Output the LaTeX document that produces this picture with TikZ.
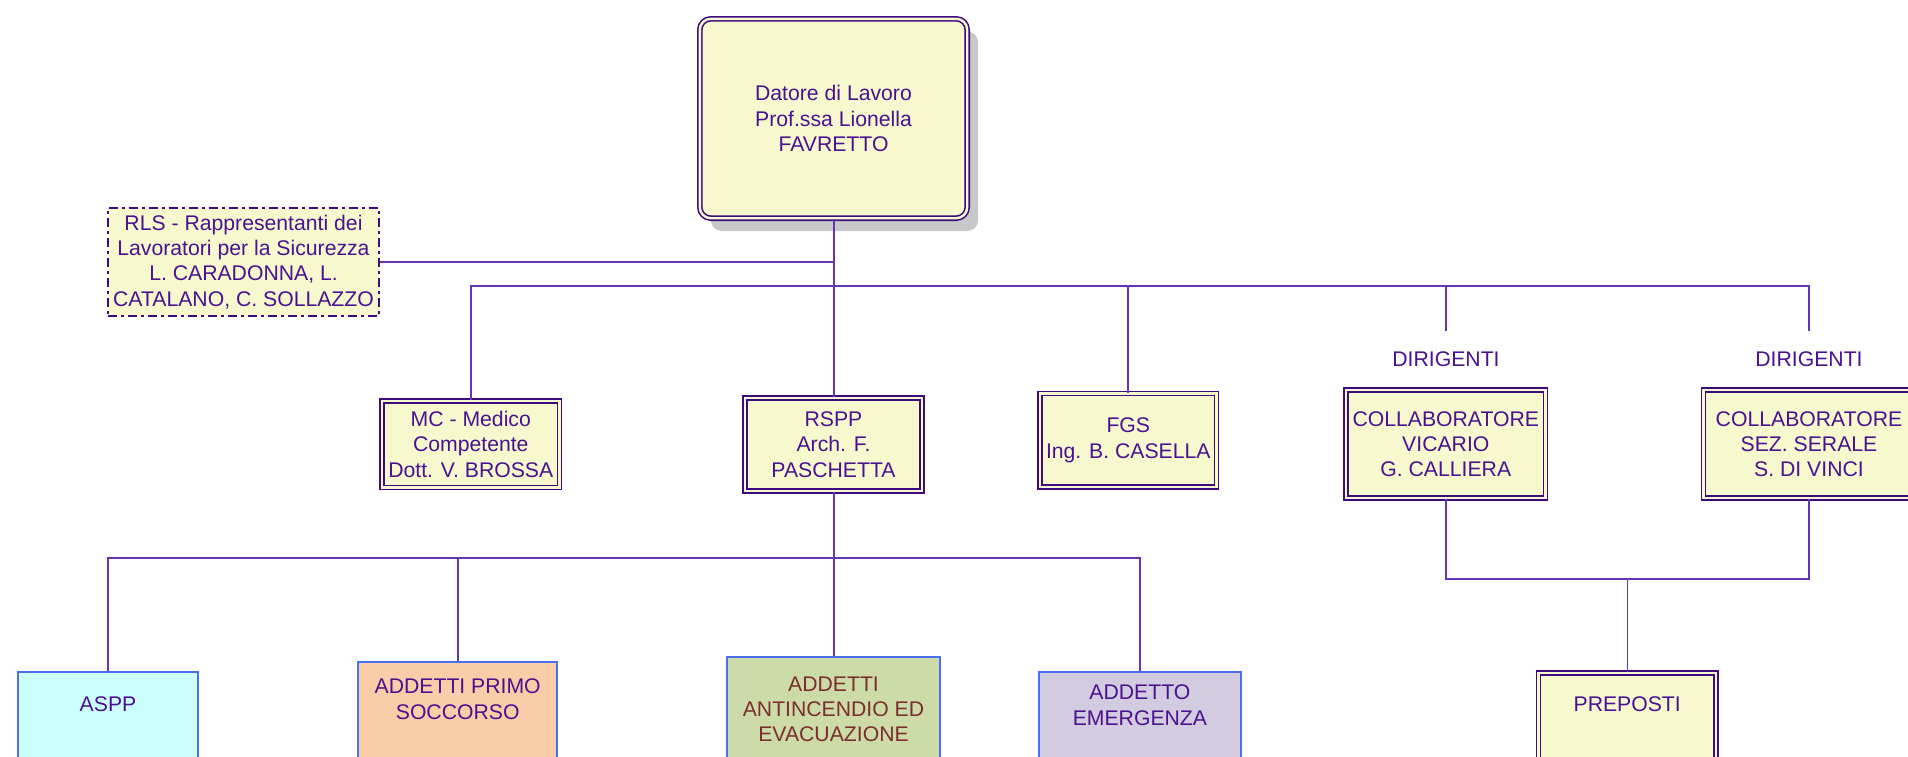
\documentclass[tikz,border=0pt]{standalone}
\usepackage{fontspec}
\setmainfont{Liberation Sans}
\usepackage{tikz}
\usetikzlibrary{shadows}
\definecolor{boxfill}{HTML}{F8F8CE}
\definecolor{boxline}{HTML}{3E0A80}
\definecolor{txt}{HTML}{4A1290}
\definecolor{wirec}{HTML}{6436B2}
\definecolor{blueline}{HTML}{4A6EF2}
\definecolor{asppfill}{HTML}{CCFFFF}
\definecolor{sokfill}{HTML}{F8CDA8}
\definecolor{antfill}{HTML}{CDDBA9}
\definecolor{antxt}{HTML}{7A2E2E}
\definecolor{emfill}{HTML}{D3CBE0}
\definecolor{shade}{HTML}{C8C8C8}

\begin{document}
\begin{tikzpicture}[x=0.5pt, y=-0.5pt,
    every node/.style={font=\fontsize{10.6}{12.65}\selectfont, text=txt, align=center},
    dbox/.style={draw=boxline, line width=0.8pt, double=boxfill, double distance=1.2pt, fill=boxfill, inner sep=0pt},
    cbox/.style={draw=blueline, line width=1pt, inner sep=0pt, anchor=base, text depth=60pt},
    conn/.style={draw=wirec, line width=1pt}]
      \fill[white, use as bounding box] (0,0) rectangle (1908,756);
      \clip (0,0) rectangle (1908,756);

      \node[dbox, rounded corners=5.5pt, minimum width=133.7pt, minimum height=99.7pt,
            drop shadow={shadow xshift=5.5pt, shadow yshift=-6.4pt, fill=shade, opacity=1}]
            (dl) at (833.5,118.5) {Datore di Lavoro\\Prof.ssa Lionella\\FAVRETTO};
      \node[draw=boxline, fill=boxfill, line width=1pt, dash pattern=on 4.5pt off 2pt on 1.5pt off 2pt,
            minimum width=135.5pt, minimum height=54pt, inner sep=0pt]
            (rls) at (243.5,262) {RLS - Rappresentanti dei\\Lavoratori per la Sicurezza\\L. CARADONNA, L.\\CATALANO, C. SOLLAZZO};

      \node[dbox, minimum width=88.7pt, minimum height=43.35pt] (mc) at (470.8,444.2) {MC - Medico\\Competente\\Dott. V. BROSSA};
      \node[dbox, minimum width=88.4pt, minimum height=46.7pt] (rspp) at (833.5,444.5) {RSPP\\Arch. F.\\PASCHETTA};
      \node[dbox, minimum width=88.2pt, minimum height=46.85pt] (fgs) at (1128.3,440.3) {FGS\\Ing. B. CASELLA};
      \node (dir1) at (1446,359.5) {DIRIGENTI};
      \node (dir2) at (1809,359.5) {DIRIGENTI};
      \node[dbox, minimum width=99.7pt, minimum height=54.2pt] (vic) at (1445.8,444) {COLLABORATORE\\VICARIO\\G. CALLIERA};
      \node[dbox, minimum width=105.5pt, minimum height=54.2pt] (ser) at (1809,444) {COLLABORATORE\\SEZ. SERALE\\S. DI VINCI};

      % anchor base = last text line
      \node[cbox, fill=asppfill, minimum width=90pt, text height=19.65pt] (aspp) at (108,711) {ASPP};
      \node[cbox, fill=sokfill, minimum width=99.7pt, text height=28.5pt] (primo) at (457.7,719) {ADDETTI PRIMO\\SOCCORSO};
      \node[cbox, fill=antfill, text=antxt, minimum width=106.65pt, text height=42.35pt] (antinc) at (833.5,741.7) {ADDETTI\\ANTINCENDIO ED\\EVACUAZIONE};
      \node[cbox, fill=emfill, minimum width=101.15pt, text height=26.65pt] (emerg) at (1139.9,725) {ADDETTO\\EMERGENZA};
      \node[dbox, anchor=base, minimum width=88.7pt, text height=18.95pt, text depth=60pt] (prep) at (1627.2,711) {PREPOSTI};

      \coordinate (bus1) at (833.5,286);
      \coordinate (d1) at (1446,331);
      \coordinate (d2) at (1809,331);
      \coordinate (bus2) at (833.5,557.7);
      \coordinate (bus3) at (1627.2,578.5);

      \draw[conn] (dl.south) -- (rspp.north);
      \draw[conn] (rls.east) -- (rls.east -| dl.south);
      \draw[conn] (mc.north) |- (bus1) -| (d2);
      \draw[conn] (fgs.north) -- (fgs.north |- bus1);
      \draw[conn] (d1) -- (d1 |- bus1);
      \draw[conn] (rspp.south) -- (antinc.north);
      \draw[conn] (aspp.north) |- (bus2) -| (emerg.north);
      \draw[conn] (primo.north) -- (primo.north |- bus2);
      \draw[conn] (vic.south) |- (bus3) -| (ser.south);
      \draw[conn, line width=0.7pt] (bus3) -- (prep.north);
\end{tikzpicture}
\end{document}
